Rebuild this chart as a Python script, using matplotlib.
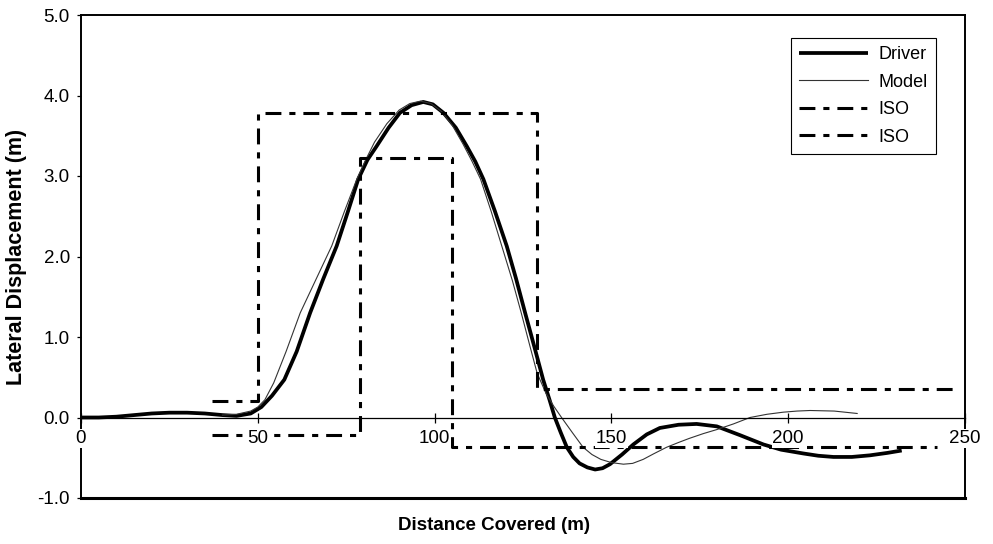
import numpy as np
import matplotlib.pyplot as plt

plt.rcParams['font.family'] = ['Liberation Sans', 'DejaVu Sans']

# Driver path
driver_x = [0, 5, 10, 15, 20, 25, 30, 35, 40, 44, 48, 51, 54, 57.5, 61, 64.8, 68.5, 72.3, 75.5, 78.4,
            81, 83.6, 87, 90.2, 93.5, 96.8, 99.5, 102.5, 106, 109.1, 111.5, 113.8, 117, 120.4, 123,
            125.6, 128.2, 130.7, 132.5, 134, 135.7, 137.4, 139.2, 141, 143.2, 145.4, 147.5, 149.6,
            153, 156.2, 160, 163.7, 169, 174.1, 179.8, 186.4, 193, 198, 204.3, 208.5, 212.8, 218,
            223.1, 228, 232.1]
driver_y = [0.0, 0.0, 0.01, 0.03, 0.05, 0.06, 0.06, 0.05, 0.03, 0.02, 0.05, 0.13, 0.27, 0.47, 0.82, 1.30,
            1.72, 2.13, 2.56, 2.96, 3.20, 3.37, 3.60, 3.785, 3.88, 3.92, 3.89, 3.785, 3.60, 3.37,
            3.18, 2.96, 2.57, 2.13, 1.73, 1.30, 0.88, 0.47, 0.22, 0.0, -0.19, -0.37, -0.49, -0.57,
            -0.62, -0.646, -0.63, -0.58, -0.46, -0.335, -0.21, -0.13, -0.09, -0.08, -0.11, -0.22,
            -0.335, -0.40, -0.447, -0.475, -0.49, -0.49, -0.47, -0.44, -0.41]

# Model path
model_x = [40, 44, 48, 50, 52, 54.5, 58, 62, 66.5, 70.9, 74.5, 78, 80.5, 83, 86.5, 90, 93, 96, 99,
           102, 105, 108, 110.5, 113, 116, 119, 122, 124.5, 127, 129, 131.5, 133.7, 135.9, 139,
           142, 144.5, 147, 150, 153.4, 156, 159, 162, 165.6, 169, 172, 176, 179.8, 184.5, 189.2,
           194, 198.6, 202.5, 206.2, 213, 219.5]
model_y = [0.03, 0.04, 0.08, 0.13, 0.22, 0.43, 0.82, 1.30, 1.72, 2.13, 2.56, 2.96, 3.20, 3.42, 3.65,
           3.82, 3.90, 3.93, 3.90, 3.80, 3.63, 3.40, 3.19, 2.96, 2.56, 2.13, 1.70, 1.30, 0.88, 0.55,
           0.30, 0.14, 0.0, -0.19, -0.37, -0.46, -0.52, -0.56, -0.58, -0.57, -0.52, -0.45, -0.37,
           -0.31, -0.26, -0.20, -0.15, -0.08, 0.0, 0.04, 0.066, 0.08, 0.087, 0.08, 0.05]

# ISO lane boundaries
iso1_x = [37, 50, 50, 129, 129, 248]
iso1_y = [0.2, 0.2, 3.78, 3.78, 0.36, 0.36]
iso2_x = [37, 79, 79, 105, 105, 242]
iso2_y = [-0.22, -0.22, 3.22, 3.22, -0.37, -0.37]

fig = plt.figure(figsize=(9.93, 5.44), dpi=100)
ax = fig.add_axes([81/993, 1 - 498/544, 884/993, 483/544])

ax.plot(driver_x, driver_y, color='black', lw=2.7, label='Driver', solid_capstyle='butt')
ax.plot(model_x, model_y, color='#333333', lw=0.8, label='Model')
dd = (5.2, 2.6, 2.0, 2.6)
ax.plot(iso1_x, iso1_y, color='black', lw=2.2, dashes=dd, label='ISO')
ax.plot(iso2_x, iso2_y, color='black', lw=2.2, dashes=dd, label='ISO')

ax.set_xlim(0, 250)
ax.set_ylim(-1, 5)
ax.set_xticks([0, 50, 100, 150, 200, 250])
ax.set_yticks(np.arange(-1, 5.01, 1.0))
ax.set_yticklabels(['%.1f' % v for v in np.arange(-1, 5.01, 1.0)])

# box frame plus x axis at y = 0
for s in ['top', 'right', 'left']:
    ax.spines[s].set_linewidth(1.4)
ax.spines['bottom'].set_position(('data', 0))
ax.spines['bottom'].set_linewidth(0.9)
ax.axhline(-1, color='black', lw=2.2, clip_on=False, zorder=2.4)

ax.tick_params(axis='x', direction='inout', length=7, width=0.9, labelsize=13.5, pad=5.5)
ax.tick_params(axis='y', direction='out', length=3, width=0.9, labelsize=13.5, pad=5)
ax.set_axisbelow(False)
for lbl in ax.get_xticklabels():
    lbl.set_bbox(dict(facecolor='white', edgecolor='none', pad=0.5))

ax.set_xlabel('Distance Covered (m)', fontsize=13.5, fontweight='bold', va='top')
ax.xaxis.set_label_coords((494.5 - 81) / 884, -0.04)
ax.set_ylabel('Lateral Displacement (m)', fontsize=15.5, fontweight='bold')
ax.yaxis.set_label_coords(-0.061, 0.5)

leg = ax.legend(loc='upper left', bbox_to_anchor=(0.803, 0.952), fontsize=13,
                handlelength=3.8, handletextpad=0.6, labelspacing=0.58, borderaxespad=0,
                fancybox=False, edgecolor='black', framealpha=1, borderpad=0.45)
leg.get_frame().set_linewidth(0.8)

fig.savefig('out.png', dpi=100)
